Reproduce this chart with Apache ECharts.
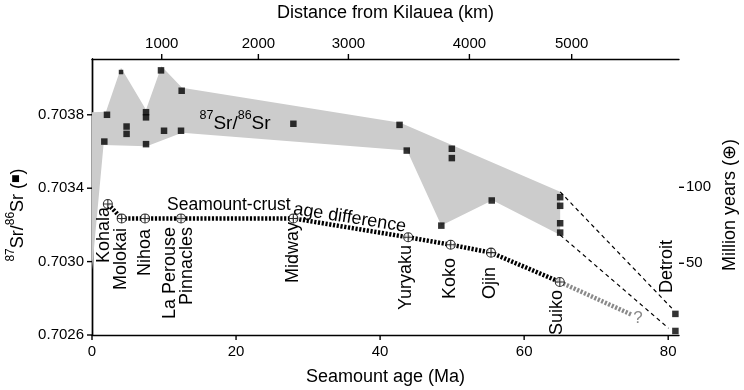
<!DOCTYPE html>
<html><head><meta charset="utf-8">
<script src="https://cdn.jsdelivr.net/npm/echarts@6/dist/echarts.min.js"></script>
<style>html,body{margin:0;padding:0;background:#fff}#c{width:744px;height:390px}</style>
</head><body><div id="c"></div>
<script>
const FONT = '"Liberation Sans", Arial, Helvetica, sans-serif';

// ---- axis ticks ----
const ageTicks = [0, 20, 40, 60, 80];
const srTicks = [0.7026, 0.7030, 0.7034, 0.7038];
const myTicks = [50, 100];
const distLabels = [1000, 2000, 3000, 4000, 5000];
const distTickAges = [9.68, 23.1, 35.6, 52.4, 66.6];

// ---- grey Hawaiian Sr band (polygon outline) ----
const bandAges = [0, 1.94, 4.03, 7.5, 9.65, 12.5, 42.8, 65.0, 65.0, 55.6, 48.5, 43.75, 12.5, 7.6, 1.6, 0];
const bandSr = [0.703814, 0.703816, 0.704056, 0.703827, 0.704065, 0.703947, 0.703756, 0.70338, 0.703145, 0.703334, 0.703197, 0.703606, 0.703702, 0.703628, 0.703636, 0.702955];

// ---- 87Sr/86Sr samples ----
const srAges = [2.08, 1.71, 4.03, 4.8, 4.8, 7.5, 7.5, 7.5, 9.58, 10.0, 12.45, 12.36, 27.96, 42.7, 43.7, 49.96, 49.96, 48.5, 55.5, 65, 65, 65, 65, 81, 81];
const srValues = [0.70380, 0.703654, 0.704033, 0.703736, 0.703696, 0.703814, 0.703786, 0.70364, 0.704042, 0.703713, 0.703931, 0.703713, 0.703751, 0.703745, 0.703605, 0.703615, 0.703564, 0.703196, 0.703333, 0.703351, 0.703304, 0.703209, 0.703158, 0.702715, 0.702622];

// ---- seamount-crust age difference (Million years) ----
const diffNames = ['Kohala', 'Molokai', 'Nihoa', 'La Perouse / Pinnacles', 'Midway', 'Yuryaku', 'Koko', 'Ojin', 'Suiko'];
const diffAges = [2.2, 4.12, 7.36, 12.36, 27.96, 43.9, 49.8, 55.4, 64.95];
const diffMy = [89.0, 79.5, 79.5, 79.5, 79.5, 67.1, 62.2, 57.0, 37.7];
const extrapAges = [64.95, 75.0];
const extrapMy = [37.7, 16.0];

// ---- Suiko -> Detroit connecting lines (Sr) ----
const upperLinkAges = [65, 80.5];
const upperLinkSr = [0.70338, 0.702746];
const lowerLinkAges = [65, 80.04];
const lowerLinkSr = [0.703145, 0.702637];

// ---- seamount name labels (anchor = top end of vertical text, in age / Myr) ----
const labelNames = ['Kohala', 'Molokai', 'Nihoa', 'La Perouse', 'Pinnacles', 'Midway', 'Yuryaku', 'Koko', 'Ojin', 'Suiko', 'Detroit'];
const labelAges = [1.67, 3.99, 7.36, 10.83, 13.15, 27.9, 43.6, 49.7, 55.3, 64.6, 79.9];
const labelMy = [87.0, 73.2, 72.6, 73.9, 73.9, 77.2, 62.0, 53.5, 47.6, 32.4, 65.3];

const zip = (a, b) => a.map((v, i) => [v, b[i]]);

const X_MIN = 0, X_MAX = 81.5;
const SR_MIN = 0.7026, SR_MAX = 0.704104;
const MY_MIN = 2.8, MY_MAX = 184.4;

const chart = echarts.init(document.getElementById('c'), null, {renderer: 'canvas'});

const axisLine = {show: true, lineStyle: {color: '#000', width: 1.4}};
const TICK_LEN = 5;

const titles = [
  {
    type: 'text', x: 16, y: 215, rotation: Math.PI / 2, z: 100,
    style: {
      text: '{s|87}{t|Sr/}{s|86}{t|Sr (}{q|■}{t|)}',
      align: 'center', verticalAlign: 'middle', fill: '#000',
      rich: {
        t: {fontSize: 18, fontFamily: FONT, lineHeight: 22, verticalAlign: 'bottom'},
        s: {fontSize: 12, fontFamily: FONT, lineHeight: 22, verticalAlign: 'top'},
        q: {fontSize: 9, fontFamily: 'DejaVu Sans', lineHeight: 22, verticalAlign: 'middle'}
      }
    }
  },
  {
    type: 'text', x: 730, y: 205, rotation: Math.PI / 2, z: 100,
    style: {
      text: 'Million years (⊕)', font: '18px ' + FONT, fill: '#000',
      align: 'center', verticalAlign: 'middle'
    }
  }
];

const option = {
  animation: false,
  backgroundColor: '#fff',
  textStyle: {fontFamily: FONT},
  grid: {left: 92, right: 65, top: 59, bottom: 55, containLabel: false, outerBoundsMode: 'none'},
  xAxis: [
    {
      type: 'value', position: 'bottom', min: X_MIN, max: X_MAX,
      axisLine, axisTick: {show: false}, splitLine: {show: false},
      axisLabel: {customValues: ageTicks, fontSize: 15, color: '#000', margin: 9, fontFamily: FONT},
      name: 'Seamount age (Ma)', nameLocation: 'middle', nameGap: 33,
      nameTextStyle: {fontSize: 18, color: '#000', fontFamily: FONT}
    },
    {
      type: 'value', position: 'top', min: X_MIN, max: X_MAX,
      axisLine, axisTick: {show: false}, splitLine: {show: false},
      axisLabel: {
        customValues: distTickAges, fontSize: 15, color: '#000', margin: 8, fontFamily: FONT,
        formatter: (v) => {
          let best = 0;
          distTickAges.forEach((a, i) => { if (Math.abs(a - v) < Math.abs(distTickAges[best] - v)) best = i; });
          return String(distLabels[best]);
        }
      },
      name: 'Distance from Kilauea (km)', nameLocation: 'middle', nameGap: 37,
      nameTextStyle: {fontSize: 18, color: '#000', fontFamily: FONT}
    }
  ],
  yAxis: [
    {
      type: 'value', position: 'left', min: SR_MIN, max: SR_MAX,
      axisLine, axisTick: {show: false}, splitLine: {show: false},
      axisLabel: {customValues: srTicks, fontSize: 15, color: '#000', margin: 8, fontFamily: FONT,
        formatter: (v) => v.toFixed(4)}
    },
    {
      type: 'value', position: 'right', min: MY_MIN, max: MY_MAX,
      axisLine, axisTick: {show: false}, splitLine: {show: false},
      axisLabel: {customValues: myTicks, fontSize: 15, color: '#000', margin: 7, fontFamily: FONT}
    }
  ],
  graphic: titles,
  series: [
    {
      type: 'custom', name: 'band', xAxisIndex: 0, yAxisIndex: 0, silent: true, z: 1,
      data: [[0, 0.703]],
      renderItem: (params, api) => ({
        type: 'polygon',
        shape: {points: bandAges.map((a, i) => api.coord([a, bandSr[i]]))},
        style: {fill: '#cccccc'}
      })
    },
    {
      type: 'line', name: 'upperLink', xAxisIndex: 0, yAxisIndex: 0, z: 2,
      data: zip(upperLinkAges, upperLinkSr), showSymbol: false, symbol: 'none',
      lineStyle: {color: '#000', width: 1.2, type: [4, 3.5]}
    },
    {
      type: 'line', name: 'lowerLink', xAxisIndex: 0, yAxisIndex: 0, z: 2,
      data: zip(lowerLinkAges, lowerLinkSr), showSymbol: false, symbol: 'none',
      lineStyle: {color: '#000', width: 1.2, type: [4, 3.5]}
    },
    {
      type: 'scatter', name: 'Sr', xAxisIndex: 0, yAxisIndex: 0, z: 3,
      symbol: 'rect', symbolSize: (v, p) => (p.dataIndex === 2 ? 4.5 : 6.5),
      itemStyle: {color: '#000'},
      data: zip(srAges, srValues)
    },
    {
      type: 'line', name: 'extrap', xAxisIndex: 0, yAxisIndex: 1, z: 4,
      data: zip(extrapAges, extrapMy), showSymbol: false, symbol: 'none',
      lineStyle: {color: '#8a8a8a', width: 4.5, type: [2.2, 1.6]}
    },
    {
      type: 'line', name: 'ageDiff', xAxisIndex: 0, yAxisIndex: 1, z: 4,
      data: zip(diffAges, diffMy), showSymbol: false, symbol: 'none',
      lineStyle: {color: '#000', width: 4.5, type: [2.2, 1.6]}
    },
    {
      type: 'scatter', name: 'ageDiffPts', xAxisIndex: 0, yAxisIndex: 1, z: 5,
      symbol: 'path://M10,0A10,10 0 1 1 -10,0A10,10 0 1 1 10,0ZM-10,0L10,0M0,-10L0,10',
      symbolSize: 9,
      itemStyle: {color: '#fff', borderColor: '#000', borderWidth: 1.1},
      data: diffAges.map((a, i) => ({name: diffNames[i], value: [a, diffMy[i]]}))
    },
    {
      type: 'custom', name: 'names', xAxisIndex: 0, yAxisIndex: 1, silent: true, z: 6,
      data: labelAges.map((a, i) => [a, labelMy[i], i]),
      renderItem: (params, api) => {
        const p = api.coord([api.value(0), api.value(1)]);
        return {
          type: 'text', x: p[0], y: p[1], rotation: Math.PI / 2,
          style: {text: labelNames[api.value(2)], font: '18px ' + FONT, fill: '#000', align: 'right', verticalAlign: 'middle'}
        };
      }
    },
    {
      type: 'custom', name: 'annotations', xAxisIndex: 0, yAxisIndex: 1, silent: true, z: 6,
      data: [[19.86, 143.3, 0], [10.42, 87.9, 1], [27.99, 85.7, 2], [75.8, 13.8, 3]],
      renderItem: (params, api) => {
        const p = api.coord([api.value(0), api.value(1)]);
        const k = api.value(2);
        if (k === 0) {
          return {
            type: 'text', x: p[0], y: p[1],
            style: {
              text: '{s|87}{t|Sr/}{s|86}{t|Sr}', align: 'center', verticalAlign: 'middle', fill: '#000',
              rich: {
                t: {fontSize: 19, fontFamily: FONT, lineHeight: 24, verticalAlign: 'bottom'},
                s: {fontSize: 12.5, fontFamily: FONT, lineHeight: 24, verticalAlign: 'top'}
              }
            }
          };
        }
        if (k === 1) {
          return {type: 'text', x: p[0], y: p[1],
            style: {text: 'Seamount-crust', font: '17.5px ' + FONT, fill: '#000', align: 'left', verticalAlign: 'middle'}};
        }
        if (k === 2) {
          return {type: 'text', x: p[0], y: p[1], rotation: -9 * Math.PI / 180,
            style: {text: 'age difference', font: '18px ' + FONT, fill: '#000', align: 'left', verticalAlign: 'middle'}};
        }
        return {type: 'text', x: p[0], y: p[1],
          style: {text: '?', font: '17px ' + FONT, fill: '#8a8a8a', align: 'center', verticalAlign: 'middle'}};
      }
    }
  ]
};
chart.setOption(option);

// outward axis ticks, placed through the axes' own scales
const px = (v) => chart.convertToPixel({xAxisIndex: 0}, v);
const pyL = (v) => chart.convertToPixel({yAxisIndex: 0}, v);
const pyR = (v) => chart.convertToPixel({yAxisIndex: 1}, v);
const gTop = pyL(SR_MAX), gBottom = pyL(SR_MIN), gLeft = px(X_MIN), gRight = px(X_MAX);
const tickLine = (x1, y1, x2, y2) => ({type: 'line', z: 100, silent: true,
  shape: {x1, y1, x2, y2}, style: {stroke: '#000', lineWidth: 1.4}});
const ticks = [];
ageTicks.forEach((a) => { const x = px(a); ticks.push(tickLine(x, gBottom, x, gBottom + TICK_LEN)); });
distTickAges.forEach((a) => { const x = px(a); ticks.push(tickLine(x, gTop, x, gTop - TICK_LEN)); });
srTicks.forEach((s) => { const y = pyL(s); ticks.push(tickLine(gLeft, y, gLeft - TICK_LEN, y)); });
myTicks.forEach((m) => { const y = pyR(m); ticks.push(tickLine(gRight, y, gRight + TICK_LEN, y)); });
chart.setOption({graphic: titles.concat(ticks)});
</script>
</body></html>
